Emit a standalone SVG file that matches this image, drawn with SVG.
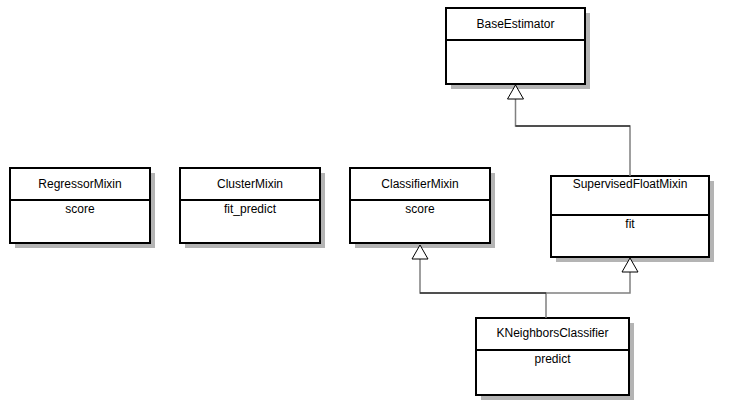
<svg xmlns="http://www.w3.org/2000/svg" width="738" height="415" viewBox="0 0 738 415">
  <style>
    .shadow { fill: #b4b4b4; stroke: none; }
    .box { fill: #ffffff; stroke: #000000; stroke-width: 2; }
    .div { stroke: #000000; stroke-width: 2; }
    .name, .op { font-family: "Liberation Sans", Arial, sans-serif; font-size: 12px; fill: #000000; text-anchor: middle; }
    .link { fill: none; stroke: #808080; stroke-width: 1.5; }
    .seg { fill: none; stroke: #000000; stroke-width: 1; }
  </style>
  <defs>
    <marker id="gen" viewBox="0 0 14 16" refX="14" refY="8" markerWidth="14" markerHeight="16" markerUnits="userSpaceOnUse" orient="auto" overflow="visible">
      <path d="M0,0 L14,8 L0,16 Z" fill="#ffffff" stroke="#000000" stroke-width="1"/>
    </marker>
  </defs>
  <rect width="738" height="415" fill="#ffffff"/>

  <!-- classes -->
  <g id="BaseEstimator">
    <rect class="shadow" x="451" y="13" width="139" height="76"/>
    <rect class="box" x="446" y="8" width="139" height="76"/>
    <line class="div" x1="446" y1="40" x2="585" y2="40"/>
    <text class="name" x="515.5" y="28">BaseEstimator</text>
  </g>

  <g id="RegressorMixin">
    <rect class="shadow" x="15" y="173" width="140" height="75"/>
    <rect class="box" x="10" y="168" width="140" height="75"/>
    <line class="div" x1="10" y1="200" x2="150" y2="200"/>
    <text class="name" x="80" y="188">RegressorMixin</text>
    <text class="op" x="80" y="213">score</text>
  </g>

  <g id="ClusterMixin">
    <rect class="shadow" x="185" y="173" width="140" height="75"/>
    <rect class="box" x="180" y="168" width="140" height="75"/>
    <line class="div" x1="180" y1="200" x2="320" y2="200"/>
    <text class="name" x="250" y="188">ClusterMixin</text>
    <text class="op" x="250" y="213">fit_predict</text>
  </g>

  <g id="ClassifierMixin">
    <rect class="shadow" x="355" y="173" width="140" height="75"/>
    <rect class="box" x="350" y="168" width="140" height="75"/>
    <line class="div" x1="350" y1="200" x2="490" y2="200"/>
    <text class="name" x="420" y="188">ClassifierMixin</text>
    <text class="op" x="420" y="213">score</text>
  </g>

  <g id="SupervisedFloatMixin">
    <rect class="shadow" x="556" y="181" width="158" height="81"/>
    <rect class="box" x="551" y="176" width="158" height="81"/>
    <line class="div" x1="551" y1="215" x2="709" y2="215"/>
    <text class="name" x="630" y="188">SupervisedFloatMixin</text>
    <text class="op" x="630" y="228">fit</text>
  </g>

  <g id="KNeighborsClassifier">
    <rect class="shadow" x="481" y="323" width="153" height="77"/>
    <rect class="box" x="476" y="318" width="153" height="77"/>
    <line class="div" x1="476" y1="350" x2="629" y2="350"/>
    <text class="name" x="552.5" y="337">KNeighborsClassifier</text>
    <text class="op" x="552.5" y="363">predict</text>
  </g>

  <!-- generalization links -->
  <g id="connectors">
    <path class="link" d="M630,176 V126 H515.5 V85" marker-end="url(#gen)"/>
    <path class="link" d="M546,318 V293 H420 V245" marker-end="url(#gen)"/>
    <path class="link" d="M546,293 H630 V258" marker-end="url(#gen)"/>
    <line class="seg" x1="515.5" y1="126" x2="630" y2="126"/>
    <line class="seg" x1="420" y1="293" x2="546" y2="293"/>
  </g>
</svg>
